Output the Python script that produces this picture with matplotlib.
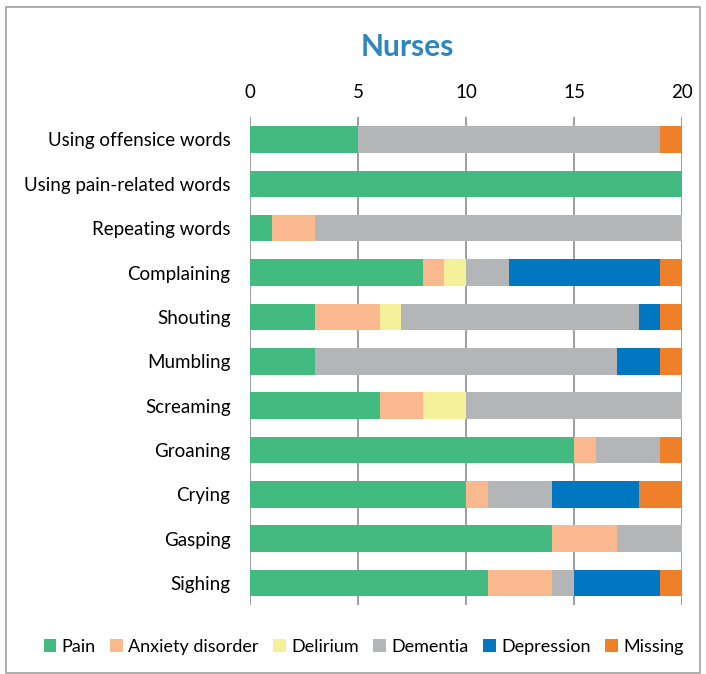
import matplotlib.pyplot as plt
from matplotlib.patches import Rectangle

plt.rcParams['font.family'] = ['Lato', 'DejaVu Sans']

behaviours = ["Using offensice words", "Using pain-related words", "Repeating words",
              "Complaining", "Shouting", "Mumbling", "Screaming", "Groaning",
              "Crying", "Gasping", "Sighing"]
pain       = [5, 20, 1, 8, 3, 3, 6, 15, 10, 14, 11]
anxiety    = [0, 0, 2, 1, 3, 0, 2, 1, 1, 3, 3]
delirium   = [0, 0, 0, 1, 1, 0, 2, 0, 0, 0, 0]
dementia   = [14, 0, 17, 2, 11, 14, 10, 3, 3, 3, 1]
depression = [0, 0, 0, 7, 1, 2, 0, 0, 4, 0, 4]
missing    = [1, 0, 0, 1, 1, 1, 0, 1, 2, 0, 1]

series = [("Pain", pain, "#43BA7F"),
          ("Anxiety disorder", anxiety, "#F9B88D"),
          ("Delirium", delirium, "#F5F09A"),
          ("Dementia", dementia, "#B3B5B6"),
          ("Depression", depression, "#0077C0"),
          ("Missing", missing, "#F07F2A")]

fig = plt.figure(figsize=(7.06, 6.74), dpi=100)
ax = fig.add_axes([0.354, 0.102, 0.612, 0.724])
fig.patches.append(Rectangle((0.008, 0.002), 0.984, 0.988, transform=fig.transFigure,
                             fill=False, edgecolor="#A0A0A0", linewidth=1.2))

y = list(range(len(behaviours)))
left = [0] * len(behaviours)
for name, vals, col in series:
    ax.barh(y, vals, left=left, height=0.6, color=col, label=name, zorder=3)
    left = [a + b for a, b in zip(left, vals)]

ax.set_xlim(0, 20)
ax.set_ylim(len(behaviours) - 0.5, -0.5)
ax.set_yticks(y)
ax.set_yticklabels(behaviours, fontsize=13.5)
ax.set_xticks([0, 5, 10, 15, 20])
ax.xaxis.tick_top()
ax.tick_params(axis='x', labelsize=13.5, length=0, pad=12)
ax.tick_params(axis='y', length=0, pad=14)
ax.grid(axis='x', color="#8C8C8C", linewidth=1.2, zorder=0)
for s in ax.spines.values():
    s.set_visible(False)

fig.text(0.577, 0.93, "Nurses", ha='center', va='center', fontsize=21.5,
         fontweight='bold', color="#2E86C1")

fig.legend(loc='center', bbox_to_anchor=(0.515, 0.04), ncol=6, frameon=False,
           fontsize=13, handlelength=0.7, handleheight=0.7, handletextpad=0.3,
           columnspacing=0.8)

fig.savefig("out.png", dpi=100)
